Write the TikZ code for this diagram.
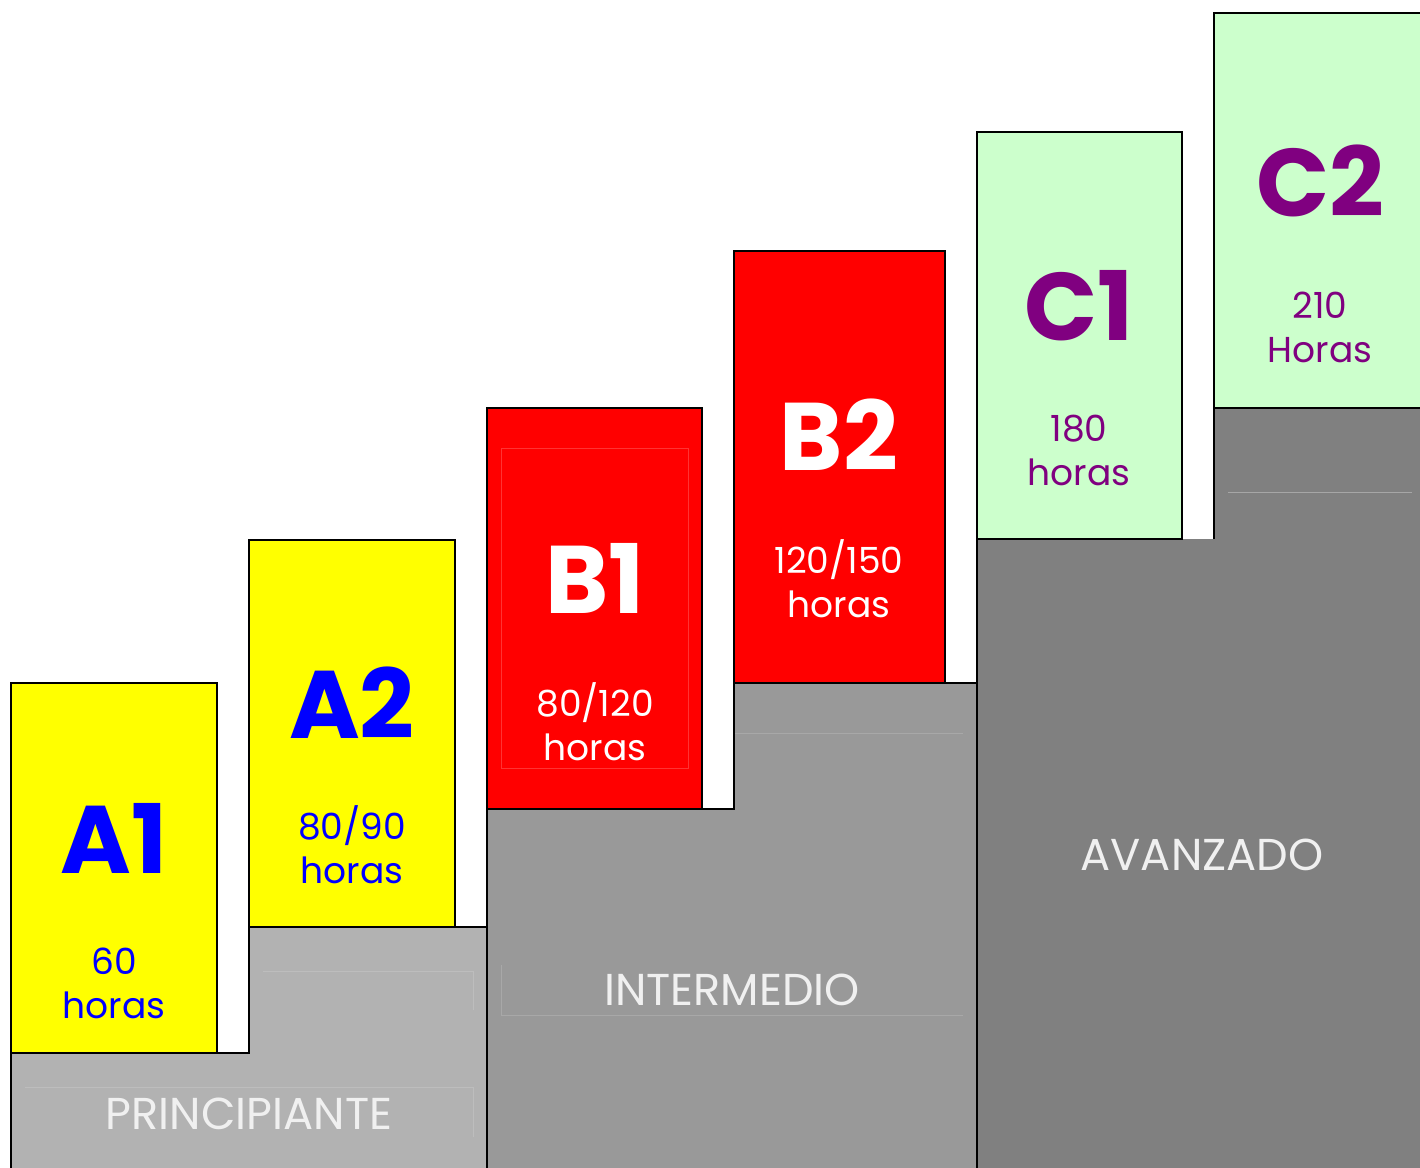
\documentclass[tikz,border=0pt]{standalone}
\usepackage{fontspec}
\setmainfont{Poppins}
\definecolor{gA}{HTML}{B2B2B2}
\definecolor{gB}{HTML}{999999}
\definecolor{gC}{HTML}{808080}
\definecolor{mint}{HTML}{CCFFCC}
\definecolor{purp}{HTML}{800080}
\definecolor{blu}{HTML}{0000FF}
\definecolor{yel}{HTML}{FFFF00}
\definecolor{rd}{HTML}{FF0000}
\tikzset{
  stepbox/.style={draw=black, line width=1.6pt},
  lvl/.style={anchor=base, inner sep=0pt, font=\fontsize{72}{72}\selectfont\bfseries},
  hrs/.style={anchor=base, inner sep=0pt, align=center, font=\fontsize{27}{32.5}\selectfont},
  band/.style={anchor=base, inner sep=0pt, text=white!94!black, font=\fontsize{33.5}{33.5}\selectfont},
  faint/.style={line width=0.6pt}
}
\begin{document}
\begin{tikzpicture}[x=0.75pt,y=-0.75pt]
\useasboundingbox (0,0) rectangle (1420,1167);
% gray steps
\draw[stepbox, fill=gA] (11,1175) -- (11,1053) -- (249,1053) -- (249,927) -- (487,927) -- (487,1175);
\draw[stepbox, fill=gB] (487,1175) -- (487,809) -- (734,809) -- (734,683) -- (977,683) -- (977,1175);
\fill[gC] (977,1175) -- (977,539) -- (1214,539) -- (1214,408) -- (1425,408) -- (1425,1175) -- cycle;
\draw[stepbox] (977,1175) -- (977,539);
\draw[stepbox] (1214,539) -- (1214,408) -- (1425,408);
% faint frames
\draw[faint, gA!85!white] (25,1087) -- (473,1087) (473,1087) -- (473,1137);
\draw[faint, gA!85!white] (263,971) -- (473,971) -- (473,1010);
\draw[faint, gB!85!white] (501,1015) -- (501,965) (501,1015) -- (963,1015) (735,733) -- (963,733);
\draw[faint, gC!70!white] (1228,492) -- (1412,492);
% level boxes
\draw[stepbox, fill=yel] (11,683) rectangle (217,1053);
\draw[stepbox, fill=yel] (249,540) rectangle (455,927);
\draw[stepbox, fill=rd] (487,408) rectangle (702,809);
\draw[stepbox, fill=rd] (734,251) rectangle (945,683);
\draw[stepbox, fill=mint] (977,132) rectangle (1182,539);
\draw[stepbox, fill=mint] (1214,13) rectangle (1425,408);
\draw[faint, rd!80!white] (501,448) rectangle (688,768);
% labels
\node[lvl, text=blu] (a1) at (114,873) {A1};
\node[hrs, text=blu] (a1h) at (114,1018) {60\\horas};
\node[lvl, text=blu] (a2) at (352,738) {A2};
\node[hrs, text=blu] (a2h) at (352,883) {80/90\\horas};
\node[lvl, text=white] (b1) at (595,613) {B1};
\node[hrs, text=white] (b1h) at (595,760) {80/120\\horas};
\node[lvl, text=white] (b2) at (839,470) {B2};
\node[hrs, text=white] (b2h) at (839,617) {120/150\\horas};
\node[lvl, text=purp] (c1) at (1079,340) {C1};
\node[hrs, text=purp] (c1h) at (1079,485) {180\\horas};
\node[lvl, text=purp] (c2) at (1320,216) {C2};
\node[hrs, text=purp] (c2h) at (1320,362) {210\\Horas};
\node[band] (p) at (249,1129) {PRINCIPIANTE};
\node[band] (i) at (732,1005) {INTERMEDIO};
\node[band] (v) at (1202,870) {AVANZADO};
\end{tikzpicture}
\end{document}
